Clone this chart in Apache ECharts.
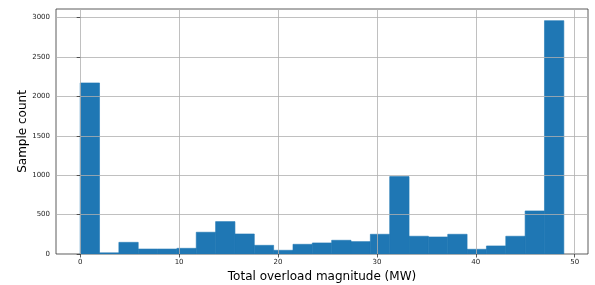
<!DOCTYPE html>
<html>
<head>
<meta charset="utf-8">
<style>
  html, body { margin: 0; padding: 0; background: #fff; }
  #chart { width: 595px; height: 285px; }
</style>
<script src="https://cdn.jsdelivr.net/npm/echarts@6/dist/echarts.min.js"></script>
</head>
<body>
<div id="chart"></div>
<script>
// histogram: 25 bins from 0 up to ~48.9 MW
const binStart = 0;
const binWidth = 1.956;
const counts = [
  2170, 15, 148, 63, 63, 72, 276, 411, 254, 110,
  47, 123, 140, 174, 157, 250, 982, 225, 216, 250,
  60, 102, 225, 546, 2960
];
const xTicks = [0, 10, 20, 30, 40, 50];
const yTicks = [0, 500, 1000, 1500, 2000, 2500, 3000];

const barData = counts.map((c, i) => [binStart + i * binWidth, binStart + (i + 1) * binWidth, c]);

// matplotlib-style 5% margins
const dataMax = binStart + counts.length * binWidth;
const xPad = (dataMax - binStart) * 0.05;
const yMax = Math.max(...counts) * 1.05;

const font = 'DejaVu Sans';
const chart = echarts.init(document.getElementById('chart'), null, { renderer: 'canvas' });

chart.setOption({
  animation: false,
  grid: {
    left: 56, right: 7, top: 9, bottom: 31,
    outerBoundsMode: 'none', containLabel: false,
    show: true, borderColor: '#333', borderWidth: 0.8
  },
  xAxis: {
    type: 'value',
    min: binStart - xPad,
    max: dataMax + xPad,
    z: 5,
    name: 'Total overload magnitude (MW)',
    nameLocation: 'middle',
    nameGap: 17,
    nameMoveOverlap: false,
    nameTextStyle: { fontFamily: font, fontSize: 12, color: '#000' },
    axisLine: { show: false },
    axisTick: { show: true, customValues: xTicks, length: 3.5, lineStyle: { color: '#333', width: 0.8 } },
    axisLabel: { customValues: xTicks, fontFamily: font, fontSize: 7, color: '#222', margin: 5 },
    splitLine: { show: true, lineStyle: { color: '#b0b0b0', width: 0.8 } }
  },
  yAxis: {
    type: 'value',
    min: 0,
    max: yMax,
    z: 5,
    name: 'Sample count',
    nameLocation: 'middle',
    nameGap: 27,
    nameMoveOverlap: false,
    nameTextStyle: { fontFamily: font, fontSize: 12, color: '#000' },
    axisLine: { show: false },
    axisTick: { show: true, customValues: yTicks, length: 3.5, lineStyle: { color: '#333', width: 0.8 } },
    axisLabel: {
      customValues: yTicks, fontFamily: font, fontSize: 7, color: '#222', margin: 6,
      formatter: (v) => String(v)
    },
    splitLine: { show: true, lineStyle: { color: '#b0b0b0', width: 0.8 } }
  },
  series: [{
    type: 'custom',
    z: 1,
    data: barData,
    encode: { x: [0, 1], y: 2 },
    renderItem: (params, api) => {
      const p0 = api.coord([api.value(0), 0]);
      const p1 = api.coord([api.value(1), api.value(2)]);
      return {
        type: 'rect',
        shape: { x: p0[0], y: p1[1], width: p1[0] - p0[0], height: p0[1] - p1[1] },
        style: { fill: '#1f77b4', stroke: '#1f77b4', lineWidth: 0.6 }
      };
    }
  }]
});
</script>
</body>
</html>
